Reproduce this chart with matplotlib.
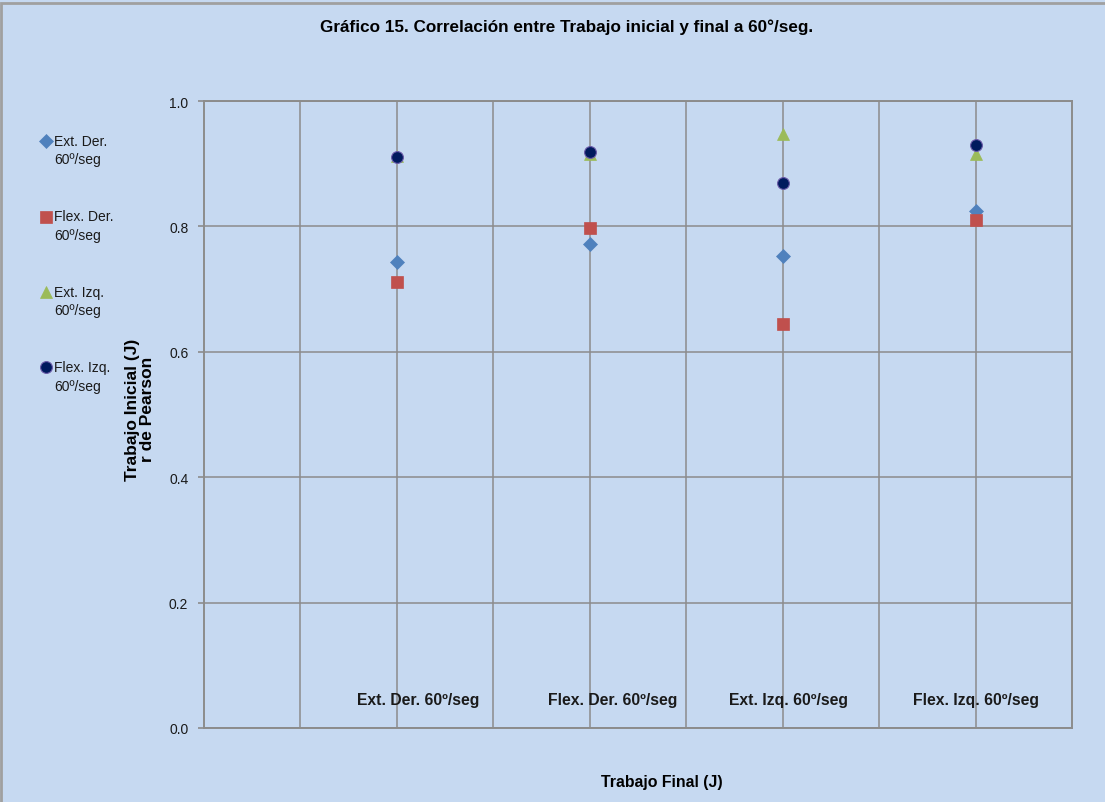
import numpy as np
import matplotlib
matplotlib.use("Agg")
import matplotlib.pyplot as plt
from matplotlib.legend_handler import HandlerLine2D
from matplotlib.patches import Rectangle
from matplotlib.ticker import MultipleLocator, NullFormatter

# Pearson r between initial and final work, per movement at 60º/seg
categories = ["Ext. Der. 60º/seg", "Flex. Der. 60º/seg",
              "Ext. Izq. 60º/seg", "Flex. Izq. 60º/seg"]
series_names = ["Ext. Der.\n60º/seg", "Flex. Der.\n60º/seg",
                "Ext. Izq.\n60º/seg", "Flex. Izq.\n60º/seg"]
ext_der = [0.744, 0.772, 0.752, 0.824]
flex_der = [0.711, 0.798, 0.644, 0.810]
ext_izq = [0.913, 0.916, 0.947, 0.916]
flex_izq = [0.910, 0.918, 0.870, 0.930]
y_ticks = [0.0, 0.2, 0.4, 0.6, 0.8, 1.0]

BG = "#C6D9F1"
GRID = "#8C8C8C"

plt.rcParams["font.family"] = ["Liberation Sans", "DejaVu Sans"]

fig = plt.figure(figsize=(11.05, 8.03), dpi=100, facecolor=BG)
ax = fig.add_axes([204 / 1105, 1 - 729 / 803, 868 / 1105, 627 / 803])
ax.set_facecolor(BG)

x = np.arange(1, len(categories) + 1)
styles = [
    dict(marker="D", ms=7, color="#4F81BD", mec="#4F81BD", mew=0.5),
    dict(marker="s", ms=8.5, color="#C0504D", mec="#C0504D", mew=0.5),
    dict(marker="^", ms=8.5, color="#9BBB59", mec="#9BBB59", mew=0.5),
    dict(marker="o", ms=8.5, color="#001A5E", mec="#6A5AA8", mew=0.8),
]
handles = []
for vals, st, name in zip([ext_der, flex_der, ext_izq, flex_izq], styles, series_names):
    h, = ax.plot(x, vals, linestyle="none", label=name, zorder=3, **st)
    handles.append(h)

ax.set_xlim(0, 4.5)
ax.set_ylim(0, 1.0)
ax.xaxis.set_major_locator(MultipleLocator(0.5))
ax.xaxis.set_major_formatter(NullFormatter())
ax.set_yticks(y_ticks)
ax.set_yticklabels([f"{v:.1f}" for v in y_ticks])
ax.tick_params(axis="x", length=0)
ax.tick_params(axis="y", length=4.3, width=1.2, color=GRID, pad=7,
               labelsize=10, labelcolor="#1A1A1A")
ax.grid(True, color=GRID, linewidth=1.1)
ax.set_axisbelow(True)
for sp in ax.spines.values():
    sp.set_color(GRID)
    sp.set_linewidth(1.4)
# gridlines only inside the frame
for line, pos in zip(ax.get_xgridlines(), ax.get_xticks()):
    if pos <= 0 or pos >= 4.5:
        line.set_visible(False)

# category names written inside the plot, above the x axis
label_x = [1.11, 2.12, 3.03, 4.0]
for lx, cat in zip(label_x, categories):
    ax.text(lx, 0.046, cat, ha="center", va="center", fontsize=11.3,
            fontweight="bold", color="#1A1A1A",
            family=["Liberation Sans Narrow", "Liberation Sans", "DejaVu Sans"])

ax.set_ylabel("Trabajo Inicial (J)\nr de Pearson", fontsize=12.5,
              fontweight="bold", color="#000000", linespacing=1.0)
ax.yaxis.set_label_coords(-0.057, 0.509)
ax.set_xlabel("Trabajo Final (J)", fontsize=11.4, fontweight="bold", color="#000000")
ax.xaxis.set_label_coords(0.528, -0.073)

fig.text(567 / 1105, 1 - 27 / 803,
         "Gráfico 15. Correlación entre Trabajo inicial y final a 60°/seg.",
         ha="center", va="center", fontsize=12.3, fontweight="bold", color="#000000")


class TopLineHandler(HandlerLine2D):
    """Place the legend marker level with the first line of its label."""

    def create_artists(self, legend, orig_handle, xdescent, ydescent,
                       width, height, fontsize, trans):
        arts = super().create_artists(legend, orig_handle, xdescent, ydescent,
                                      width, height, fontsize, trans)
        for a in arts:
            a.set_ydata(np.asarray(a.get_ydata(), dtype=float) + 0.7 * fontsize)
        return arts


leg = fig.legend(handles=handles, labels=series_names,
                 loc="upper left", bbox_to_anchor=(40 / 1105, 1 - 135 / 803),
                 frameon=False, fontsize=10, handlelength=0.8,
                 handletextpad=0.2, labelspacing=3.1, borderpad=0,
                 borderaxespad=0, numpoints=1,
                 handler_map={h: TopLineHandler() for h in handles})
for t in leg.get_texts():
    t.set_color("#1A1A1A")
    t.set_linespacing(1.4)

# outer chart border
fig.patches.append(Rectangle((1 / 1105, -0.05), 1.2, 1.05 - 4 / 803,
                             transform=fig.transFigure, fill=False,
                             edgecolor="#A0A0A0", linewidth=2, zorder=10))

fig.savefig("out.png", dpi=100, facecolor=BG)
